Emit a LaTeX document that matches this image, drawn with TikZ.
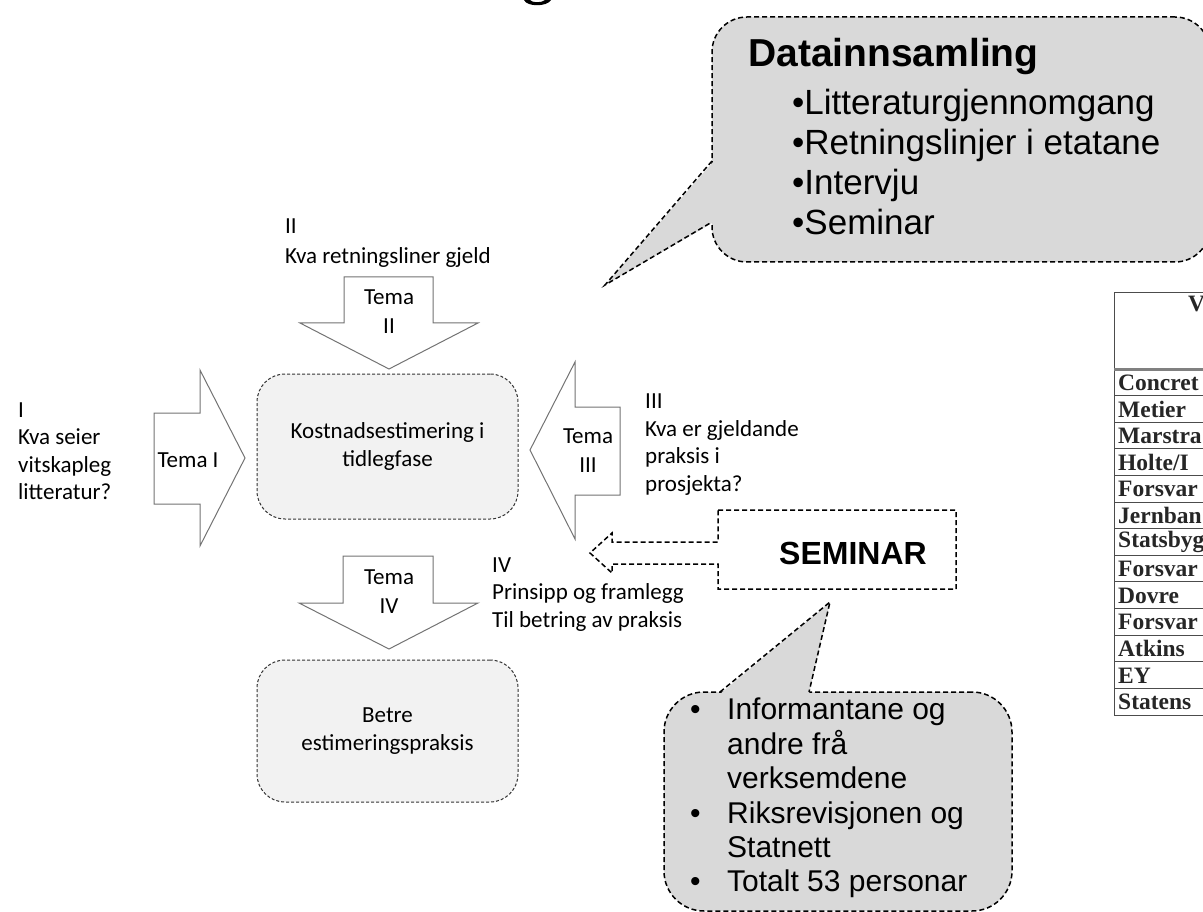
\documentclass[tikz,border=0pt]{standalone}
\usepackage{fontspec}
\setmainfont{Carlito}
\newfontfamily\arial{Liberation Sans}
\newfontfamily\tms{Liberation Serif}
\begin{document}
\begin{tikzpicture}[x=1pt,y=-1pt,
  cal/.style={font=\fontsize{23}{27.5}\selectfont, inner sep=0pt, align=left, anchor=west},
  calc/.style={font=\fontsize{23}{28.5}\selectfont, inner sep=0pt, align=center},
  tema/.style={draw=black!55, fill=white, line width=1pt, line join=miter},
  phase/.style={draw=black!80, fill=black!5, dash pattern=on 3pt off 2pt, line width=1pt, rounded corners=28pt, inner sep=0pt, align=center, font=\fontsize{23}{28.5}\selectfont},
  bubble/.style={draw=black, fill=black!15, dash pattern=on 5pt off 3pt, line width=1.5pt, rounded corners=35pt, inner sep=0pt},
  bubtail/.style={draw=black, dash pattern=on 5pt off 3pt, line width=1.5pt},
  semshape/.style={draw=black, fill=white, dash pattern=on 5pt off 3pt, line width=1.5pt, line join=miter},
  tabline/.style={draw=black!70, line width=0.9pt},
  tabtxt/.style={font=\tms\bfseries\fontsize{23.5}{26}\selectfont, text=black!85, inner sep=0pt, anchor=west}
]
\useasboundingbox (0,0) rectangle (1203,912);

% fragment of a title cut off at the top
\fill[black] (524,0) .. controls (527,7) and (547,7) .. (551,0) -- (545,0) .. controls (542,3) and (532,3) .. (530,0) -- cycle;

% ---------- Datainnsamling callout ----------
\node[bubble, minimum width=498pt, minimum height=245pt] (dat) at (961,139.5) {};
\fill[black!15] (605,285) -- (714,161) -- (714,222) -- cycle;
\coordinate (dattip) at (605,285);
\draw[bubtail] (712,161) -- (dattip) -- (712,222);
\node[font=\arial\bfseries\fontsize{39}{44}\selectfont, inner sep=0pt, anchor=west] (dattitle) at (748,57) {Datainnsamling};
\node[font=\arial\fontsize{35}{40.3}\selectfont, inner sep=0pt, anchor=west, align=left] (datlist) at (792,162)
  {•Litteraturgjennomgang\\•Retningslinjer i etatane\\•Intervju\\•Seminar};

% ---------- phase boxes ----------
\node[phase, minimum width=261pt, minimum height=145pt] (kost) at (387.5,446.5) {Kostnadsestimering i\\tidlegfase};
\node[phase, minimum width=261pt, minimum height=142pt] (betre) at (387.5,731) {Betre\\estimeringspraksis};

% ---------- Tema arrows ----------
\draw[tema] (344,277) -- (433,277) -- (433,323) -- (478,323) -- (389,369) -- (300,323) -- (344,323) -- cycle;
\node[calc] (t2) at (389,311.5) {Tema\\II};
\draw[tema] (154,413) -- (200,413) -- (200,370) -- (245,458) -- (200,546) -- (200,504) -- (154,504) -- cycle;
\node[calc] (t1) at (188,460) {Tema I};
\draw[tema] (620,407) -- (575,407) -- (575,362) -- (530,450) -- (575,539) -- (575,495) -- (620,495) -- cycle;
\node[calc] (t3) at (588,450.5) {Tema\\III};
\draw[tema] (343,556) -- (433,556) -- (433,603) -- (478,603) -- (389,649) -- (299,603) -- (343,603) -- cycle;
\node[calc] (t4) at (389,591.5) {Tema\\IV};

% ---------- question texts ----------
\node[cal] (q1) at (18,451) {I\\Kva seier\\vitskapleg\\litteratur?};
\node[cal, font=\fontsize{23}{30}\selectfont] (q2) at (285,243) {II\\Kva retningsliner gjeld};
\node[cal] (q3) at (645,444.5) {III\\Kva er gjeldande\\praksis i\\prosjekta?};
\node[cal] (q4) at (492,594.5) {IV\\Prinsipp og framlegg\\Til betring av praksis};

% ---------- SEMINAR ----------
\draw[semshape] (718,510) -- (956,510) -- (956,589) -- (718,589) -- (718,564) -- (612,564) -- (612,573) -- (590,553) -- (612,533) -- (612,542) -- (718,542) -- cycle;
\node[font=\arial\bfseries\fontsize{32}{36}\selectfont, inner sep=0pt] (sem) at (853,553) {SEMINAR};

% ---------- participants callout ----------
\node[bubble, rounded corners=40pt, minimum width=348pt, minimum height=219pt] (inf) at (838,801.5) {};
\fill[black!15] (720,694) -- (830,602) -- (809,694) -- cycle;
\coordinate (inftip) at (830,602);
\draw[bubtail] (720,692) -- (inftip) -- (809,692);
\node[font=\arial\fontsize{30}{34.4}\selectfont, inner sep=0pt, anchor=west] (inflist) at (690,799)
  {\begin{tabular}{@{}p{37pt}@{}l@{}}
   • & Informantane og\\
     & andre frå\\
     & verksemdene\\
   • & Riksrevisjonen og\\
     & Statnett\\
   • & Totalt 53 personar
   \end{tabular}};

% ---------- table (cut off at the right edge) ----------
\draw[tabline] (1203,292) -- (1114,292) -- (1114,715) -- (1203,715);
\draw[draw=black!50, line width=3pt] (1114,369) -- (1203,369);
\foreach \k in {1,...,12} \draw[tabline] (1114,369+26.6*\k) -- (1203,369+26.6*\k);
\node[tabtxt] (hdr) at (1188,304) {V};
\foreach \t [count=\i] in {Concret,Metier,Marstra,Holte/I,Forsvar,Jernban,Statsbyg,Forsvar,Dovre,Forsvar,Atkins,EY,Statens}
  \node[tabtxt] (row\i) at (1118,369+26.6*\i-12.8) {\t};
\end{tikzpicture}
\end{document}
